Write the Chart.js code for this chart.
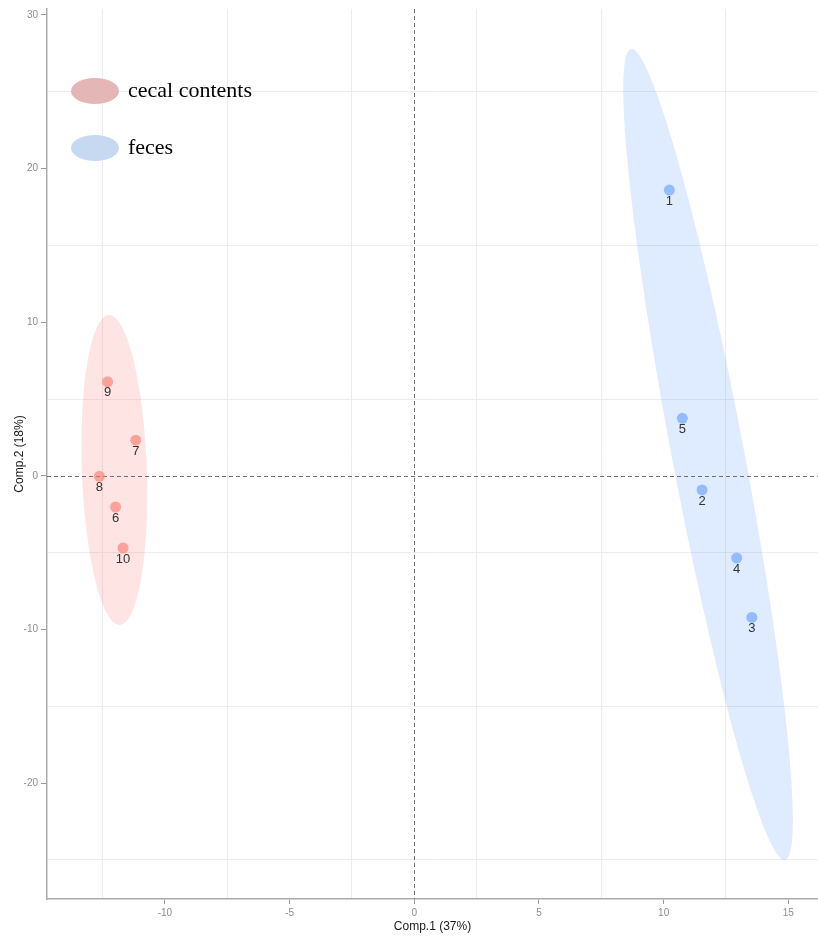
<!DOCTYPE html>
<html>
<head>
<meta charset="utf-8">
<script src="https://cdn.jsdelivr.net/npm/chart.js@4/dist/chart.umd.min.js"></script>
<style>
  html, body { margin: 0; padding: 0; background: #fff; }
  #wrap { width: 818px; height: 936px; position: relative; }
</style>
</head>
<body>
<div id="wrap"><canvas id="c" width="818" height="936"></canvas></div>
<script>
// ---- data ----
const groupNames = ['cecal contents', 'feces'];

const cecalLabels = ['6', '7', '8', '9', '10'];
const cecalX = [-11.98, -11.17, -12.63, -12.30, -11.68];
const cecalY = [-2.03, 2.32, -0.03, 6.12, -4.70];

const fecesLabels = ['1', '2', '3', '4', '5'];
const fecesX = [10.23, 11.54, 13.54, 12.93, 10.75];
const fecesY = [18.60, -0.92, -9.22, -5.35, 3.74];

// ellipse outlines: centre, half major-axis vector, half minor-axis vector (data units)
const ellipseCenterX = [-12.03, 11.78];
const ellipseCenterY = [0.38, 1.39];
const ellipseMajorX = [0.22, 3.09];
const ellipseMajorY = [-10.09, -26.40];
const ellipseMinorX = [1.30, 1.42];
const ellipseMinorY = [0.075, 0.436];

const xTicks = [-10, -5, 0, 5, 10, 15];
const yTicks = [-20, -10, 0, 10, 20, 30];
const xGrid = [-12.5, -7.5, -2.5, 2.5, 7.5, 12.5];
const yGrid = [-25, -15, -5, 5, 15, 25];
const xRange = [-14.73, 16.19];
const yRange = [-27.55, 30.39];
const xTitle = 'Comp.1 (37%)';
const yTitle = 'Comp.2 (18%)';

// ---- styles ----
const pointColors = ['rgba(248,118,109,0.6)', 'rgba(97,156,255,0.6)'];
const ellipseColors = ['rgba(248,118,109,0.2)', 'rgba(97,156,255,0.2)'];
const legendColors = ['#e4b6b6', '#c7d9f1'];
const sansFamily = "'Liberation Sans', Arial, Helvetica, sans-serif";

const toPts = (xs, ys) => xs.map((x, i) => ({ x: x, y: ys[i] }));

const ellipsePlugin = {
  id: 'ellipses',
  beforeDatasetsDraw(chart) {
    const { ctx, chartArea, scales: { x, y } } = chart;
    ctx.save();
    ctx.beginPath();
    ctx.rect(chartArea.left, chartArea.top, chartArea.right - chartArea.left, chartArea.bottom - chartArea.top);
    ctx.clip();
    for (let k = 0; k < ellipseCenterX.length; k++) {
      const cx = x.getPixelForValue(ellipseCenterX[k]);
      const cy = y.getPixelForValue(ellipseCenterY[k]);
      const ux = x.getPixelForValue(ellipseCenterX[k] + ellipseMajorX[k]) - cx;
      const uy = y.getPixelForValue(ellipseCenterY[k] + ellipseMajorY[k]) - cy;
      const vx = x.getPixelForValue(ellipseCenterX[k] + ellipseMinorX[k]) - cx;
      const vy = y.getPixelForValue(ellipseCenterY[k] + ellipseMinorY[k]) - cy;
      ctx.save();
      ctx.transform(ux, uy, vx, vy, cx, cy);
      ctx.beginPath();
      ctx.arc(0, 0, 1, 0, Math.PI * 2);
      ctx.restore();
      ctx.fillStyle = ellipseColors[k];
      ctx.fill();
    }
    // dashed zero lines
    ctx.strokeStyle = '#707070';
    ctx.lineWidth = 1;
    ctx.setLineDash([4, 3]);
    const x0 = Math.round(x.getPixelForValue(0)) + 0.5;
    const y0 = Math.round(y.getPixelForValue(0)) + 0.5;
    ctx.beginPath();
    ctx.moveTo(x0, chartArea.top);
    ctx.lineTo(x0, chartArea.bottom);
    ctx.moveTo(chartArea.left, y0);
    ctx.lineTo(chartArea.right, y0);
    ctx.stroke();
    ctx.restore();
  }
};

const labelPlugin = {
  id: 'pointLabels',
  afterDatasetsDraw(chart) {
    const { ctx } = chart;
    ctx.save();
    ctx.font = '13px ' + sansFamily;
    ctx.fillStyle = '#333333';
    ctx.textAlign = 'center';
    ctx.textBaseline = 'middle';
    chart.data.datasets.forEach((ds, di) => {
      const meta = chart.getDatasetMeta(di);
      meta.data.forEach((el, i) => {
        ctx.fillText(ds.pointLabels[i], el.x, el.y + 11);
      });
    });
    ctx.restore();
  }
};

const legendPlugin = {
  id: 'ellipseLegend',
  afterDraw(chart) {
    const { ctx } = chart;
    ctx.save();
    const rows = [91, 148];
    groupNames.forEach((name, i) => {
      ctx.beginPath();
      ctx.ellipse(95, rows[i], 24, 13, 0, 0, Math.PI * 2);
      ctx.fillStyle = legendColors[i];
      ctx.fill();
      ctx.font = "22px 'Liberation Serif', 'Times New Roman', serif";
      ctx.fillStyle = '#000';
      ctx.textAlign = 'left';
      ctx.textBaseline = 'alphabetic';
      ctx.fillText(name, 128, rows[i] + 6);
    });
    ctx.restore();
  }
};

function makeScale(ticksArr, gridArr, range, titleText, isX) {
  return {
    type: 'linear',
    position: isX ? 'bottom' : 'left',
    min: range[0],
    max: range[1],
    afterBuildTicks(scale) {
      scale.ticks = ticksArr.concat(gridArr).sort((a, b) => a - b).map(v => ({ value: v }));
    },
    afterFit(scale) {
      if (isX) scale.height = 37; else scale.width = 47;
      scale.paddingLeft = 0;
      scale.paddingRight = 0;
      scale.paddingTop = 0;
      scale.paddingBottom = 0;
    },
    ticks: {
      autoSkip: false,
      maxRotation: 0,
      padding: 3,
      color: '#8c8c8c',
      font: { size: 10, family: sansFamily },
      callback: (v) => (ticksArr.includes(v) ? String(v) : '')
    },
    grid: {
      drawOnChartArea: true,
      drawTicks: true,
      tickLength: isX ? 5 : 6,
      lineWidth: 1,
      color: (c) => (c.tick && gridArr.includes(c.tick.value) ? '#ececec' : 'rgba(0,0,0,0)'),
      tickColor: (c) => (c.tick && ticksArr.includes(c.tick.value) ? '#9a9a9a' : 'rgba(0,0,0,0)')
    },
    border: { display: true, color: '#ababab', width: 1.5 },
    title: {
      display: true,
      text: titleText,
      color: '#1a1a1a',
      font: { size: 12, family: sansFamily },
      padding: isX ? { top: 0, bottom: 2 } : { top: 12, bottom: 0 }
    }
  };
}

new Chart(document.getElementById('c'), {
  type: 'scatter',
  data: {
    datasets: [
      {
        label: groupNames[0],
        data: toPts(cecalX, cecalY),
        pointLabels: cecalLabels,
        backgroundColor: pointColors[0],
        borderWidth: 0,
        pointRadius: 5.5,
        pointHoverRadius: 5.5
      },
      {
        label: groupNames[1],
        data: toPts(fecesX, fecesY),
        pointLabels: fecesLabels,
        backgroundColor: pointColors[1],
        borderWidth: 0,
        pointRadius: 5.5,
        pointHoverRadius: 5.5
      }
    ]
  },
  options: {
    responsive: false,
    animation: false,
    devicePixelRatio: 1,
    layout: { autoPadding: false, padding: { top: 9, right: 0, bottom: 0, left: 0 } },
    plugins: {
      legend: { display: false },
      tooltip: { enabled: false }
    },
    scales: {
      x: makeScale(xTicks, xGrid, xRange, xTitle, true),
      y: makeScale(yTicks, yGrid, yRange, yTitle, false)
    }
  },
  plugins: [ellipsePlugin, labelPlugin, legendPlugin]
});
</script>
</body>
</html>
